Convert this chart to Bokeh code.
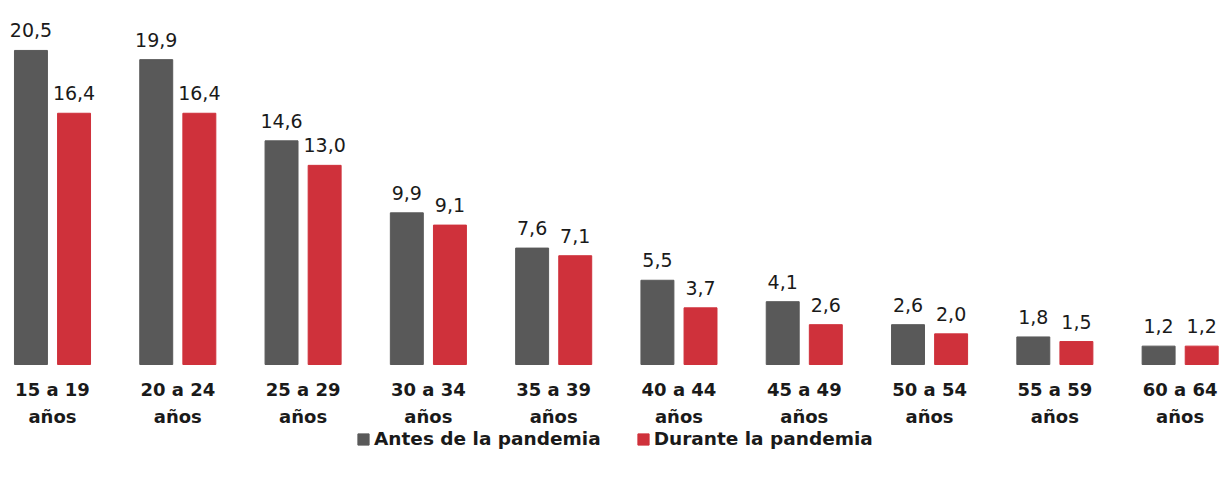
from bokeh.plotting import figure
from bokeh.models import ColumnDataSource, Range1d, Legend, LegendItem
from bokeh.core.properties import value
from bokeh.embed import file_html
from bokeh.resources import INLINE

categories = ["15 a 19\naños", "20 a 24\naños", "25 a 29\naños", "30 a 34\naños", "35 a 39\naños",
              "40 a 44\naños", "45 a 49\naños", "50 a 54\naños", "55 a 59\naños", "60 a 64\naños"]
antes = [20.5, 19.9, 14.6, 9.9, 7.6, 5.5, 4.1, 2.6, 1.8, 1.2]
durante = [16.4, 16.4, 13.0, 9.1, 7.1, 3.7, 2.6, 2.0, 1.5, 1.2]
series_names = ["Antes de la pandemia", "Durante la pandemia"]

GRAY = "#595959"
RED = "#CF313B"
TXT = "#1a1a1a"
FONT = "DejaVu Sans"

xs = list(range(len(categories)))
off = 0.172
bw = 0.263

def fmt(v):
    return f"{v:.1f}".replace(".", ",")

src_a = ColumnDataSource(dict(x=[i - off for i in xs], top=antes, lbl=[fmt(v) for v in antes]))
src_d = ColumnDataSource(dict(x=[i + off for i in xs], top=durante, lbl=[fmt(v) for v in durante]))
src_c = ColumnDataSource(dict(x=xs, y=[0] * len(xs), lbl=categories))

p = figure(width=1221, height=478, output_backend="svg", toolbar_location=None,
           x_range=Range1d(-0.415, 9.33), y_range=Range1d(-7.44, 23.76),
           min_border=0, min_border_left=0, min_border_right=0, min_border_top=0, min_border_bottom=0)
p.axis.visible = False
p.grid.visible = False
p.outline_line_color = None
p.background_fill_color = "white"
p.border_fill_color = "white"

ra = p.vbar(x="x", top="top", width=bw, bottom=0, source=src_a, fill_color=GRAY, line_color=GRAY)
rd = p.vbar(x="x", top="top", width=bw, bottom=0, source=src_d, fill_color=RED, line_color=RED)

for s in (src_a, src_d):
    p.text(x="x", y="top", text="lbl", source=s, text_align="center", text_baseline="bottom",
           y_offset=-13, text_font=value(FONT), text_font_size="19px", text_color=TXT)

p.text(x="x", y="y", text="lbl", source=src_c, text_align="center", text_baseline="top",
       y_offset=14, text_font=value(FONT), text_font_size="18px", text_font_style="bold",
       text_color=TXT, text_line_height=1.3)

legend = Legend(items=[LegendItem(label=series_names[0], renderers=[ra]),
                       LegendItem(label=series_names[1], renderers=[rd])],
                orientation="horizontal", location=(356, 29),
                label_text_font=FONT, label_text_font_size="18.5px", label_text_font_style="bold",
                label_text_color=TXT, glyph_width=14, glyph_height=14, label_standoff=4,
                spacing=35, padding=0, margin=0, border_line_color=None,
                background_fill_alpha=0)
p.add_layout(legend, "center")

open("out.html", "w").write(file_html(p, INLINE))
